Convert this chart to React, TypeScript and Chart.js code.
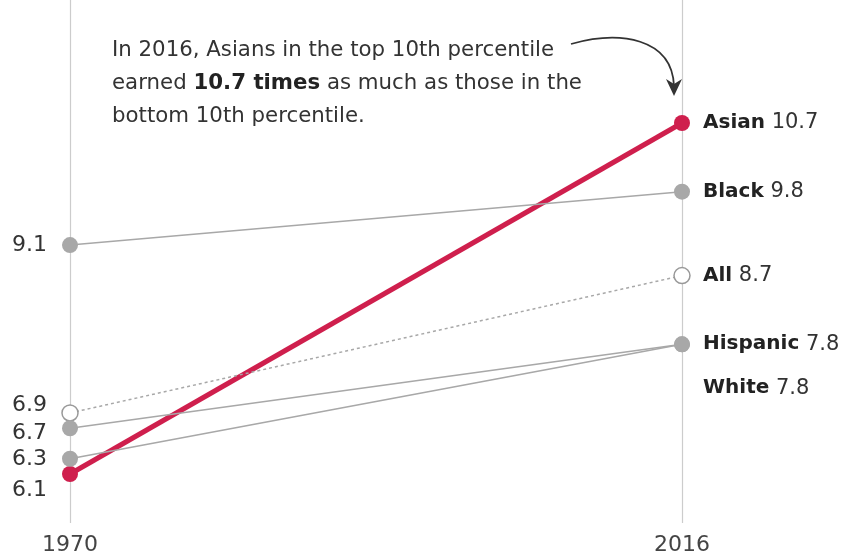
import React, { useEffect, useRef } from "react";
import { Chart, registerables } from "chart.js";

Chart.register(...registerables);

const years = [1970, 2016];
const groups = ["Asian", "Black", "All", "Hispanic", "White"];
const values1970 = [6.1, 9.1, 6.9, 6.7, 6.3];
const values2016 = [10.7, 9.8, 8.7, 7.8, 7.8];
const leftLabels = ["6.1", "9.1", "6.9", "6.7", "6.3"];
const leftLabelShift = [16, 0, -8, 5, 1];
const rightLabelShift = [0, 0, 0, 0, 44];
const noteLines = [
  [{ t: "In 2016, Asians in the top 10th percentile", b: false }],
  [
    { t: "earned ", b: false },
    { t: "10.7 times", b: true },
    { t: " as much as those in the", b: false },
  ],
  [{ t: "bottom 10th percentile.", b: false }],
];

const FONT = "'DejaVu Sans', 'Open Sans', Arial, sans-serif";
const TEXT = "#333333";
const RED = "#cf1f4d";
const GRAY = "#a8a8a8";

export default function App() {
  const ref = useRef<HTMLCanvasElement | null>(null);

  useEffect(() => {
    if (!ref.current) return;
    const styleFor = (i: number) => {
      if (i === 0) return { color: RED, width: 5, fill: RED, dash: [] as number[] };
      if (i === 2) return { color: GRAY, width: 1.5, fill: "#ffffff", dash: [3, 3] };
      return { color: GRAY, width: 1.5, fill: GRAY, dash: [] as number[] };
    };
    const datasets = groups
      .map((g, i) => {
        const s = styleFor(i);
        return {
          label: g,
          data: [
            { x: years[0], y: values1970[i] },
            { x: years[1], y: values2016[i] },
          ],
          borderColor: s.color,
          borderWidth: s.width,
          borderDash: s.dash,
          pointRadius: 8,
          pointBackgroundColor: s.fill,
          pointBorderColor: i === 2 ? "#999999" : s.fill,
          pointBorderWidth: i === 2 ? 1.5 : 0,
          clip: false as any,
        };
      })
      .reverse();

    const decor = {
      id: "decor",
      beforeDatasetsDraw(chart: any) {
        const ctx = chart.ctx;
        const xs = chart.scales.x;
        ctx.save();
        ctx.strokeStyle = "#cccccc";
        ctx.lineWidth = 1.2;
        years.forEach((yr) => {
          const px = Math.round(xs.getPixelForValue(yr)) + 0.5;
          ctx.beginPath();
          ctx.moveTo(px, chart.chartArea.top);
          ctx.lineTo(px, chart.chartArea.bottom);
          ctx.stroke();
        });
        ctx.restore();
      },
      afterDraw(chart: any) {
        const ctx = chart.ctx;
        const xs = chart.scales.x;
        const ys = chart.scales.y;
        const x0 = xs.getPixelForValue(years[0]);
        const x1 = xs.getPixelForValue(years[1]);
        ctx.save();
        ctx.textBaseline = "middle";
        // year labels
        ctx.fillStyle = "#444444";
        ctx.font = `22px ${FONT}`;
        ctx.textAlign = "center";
        years.forEach((yr) => {
          ctx.fillText(String(yr), xs.getPixelForValue(yr), 545);
        });
        // left value labels
        ctx.textAlign = "right";
        ctx.fillStyle = TEXT;
        ctx.font = `22px ${FONT}`;
        values1970.forEach((v, i) => {
          ctx.fillText(leftLabels[i], x0 - 23, ys.getPixelForValue(v) + leftLabelShift[i]);
        });
        // right labels
        ctx.textAlign = "left";
        groups.forEach((g, i) => {
          const y = ys.getPixelForValue(values2016[i]) + rightLabelShift[i];
          let x = x1 + 21;
          ctx.font = `bold 20px ${FONT}`;
          ctx.fillStyle = "#222222";
          ctx.fillText(g, x, y);
          x += ctx.measureText(g).width;
          ctx.font = `21px ${FONT}`;
          x += ctx.measureText(" ").width;
          ctx.fillStyle = TEXT;
          ctx.fillText(String(values2016[i]), x, y);
        });
        // annotation
        noteLines.forEach((line, li) => {
          let x = 112;
          const y = 50 + li * 33;
          line.forEach((seg) => {
            ctx.font = `${seg.b ? "bold " : ""}21.3px ${FONT}`;
            ctx.fillStyle = seg.b ? "#222222" : TEXT;
            ctx.fillText(seg.t, x, y);
            x += ctx.measureText(seg.t).width;
          });
        });
        // arrow
        ctx.strokeStyle = "#333333";
        ctx.lineWidth = 1.8;
        ctx.beginPath();
        ctx.moveTo(571, 44);
        ctx.bezierCurveTo(620, 30, 672, 38, 674, 86);
        ctx.stroke();
        ctx.fillStyle = "#333333";
        ctx.beginPath();
        ctx.moveTo(666, 79);
        ctx.lineTo(674, 96);
        ctx.lineTo(682, 79);
        ctx.lineTo(674, 84);
        ctx.closePath();
        ctx.fill();
        ctx.restore();
      },
    };

    const chart = new Chart(ref.current, {
      type: "line",
      data: { datasets: datasets as any },
      options: {
        responsive: false,
        animation: false,
        layout: { autoPadding: false, padding: { left: 70, right: 164, top: 0, bottom: 32 } },
        plugins: { legend: { display: false }, tooltip: { enabled: false } },
        scales: {
          x: { type: "linear", min: 1970, max: 2016, display: false },
          y: { type: "linear", min: 5.458, max: 12.312, display: false },
        },
      },
      plugins: [decor],
    });
    return () => chart.destroy();
  }, []);

  return (
    <div style={{ position: "fixed", left: 0, top: 0, width: 846, height: 555, background: "#fff" }}>
      <canvas ref={ref} width={846} height={555} />
    </div>
  );
}
